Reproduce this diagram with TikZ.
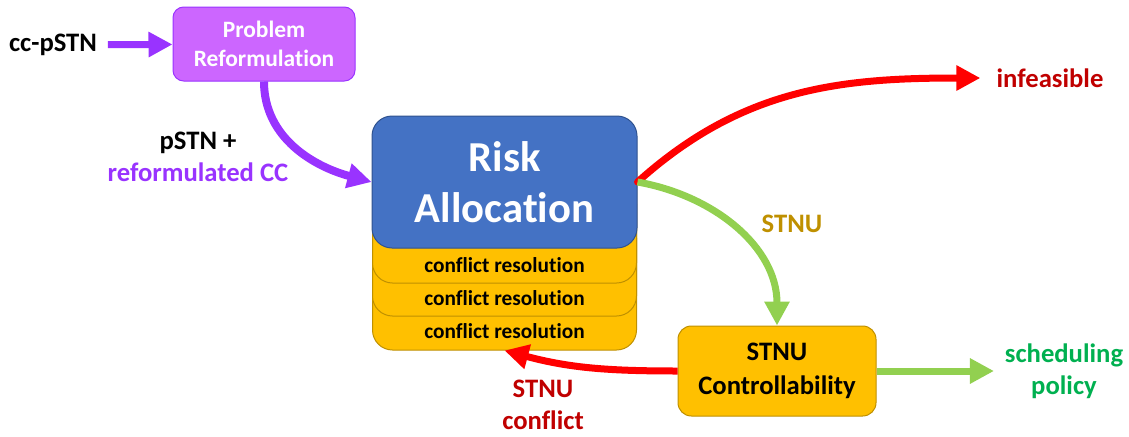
\documentclass[tikz,border=0pt]{standalone}
\usepackage{fontspec}
\setmainfont{Carlito}[Ligatures=NoCommon]
\usetikzlibrary{arrows.meta}
\definecolor{violetline}{HTML}{9933FF}
\definecolor{violetfill}{HTML}{CC66FF}
\definecolor{riskblue}{HTML}{4472C4}
\definecolor{riskborder}{HTML}{2F528F}
\definecolor{amber}{HTML}{FFC000}
\definecolor{amberborder}{HTML}{BF9000}
\definecolor{darkred}{HTML}{C00000}
\definecolor{lightgreen}{HTML}{92D050}
\definecolor{textgreen}{HTML}{00B050}
\begin{document}
\begin{tikzpicture}[x=0.75pt, y=-0.75pt,
  box/.style={draw, line width=0.75pt, align=center, inner sep=0pt},
  layer/.style={box, draw=amberborder, fill=amber, minimum width=198pt, minimum height=99pt, rounded corners=15pt},
  lbl/.style={align=center, inner sep=2pt, font=\fontsize{20}{24}\selectfont\bfseries},
  flow/.style={line width=5.25pt, -{Triangle[length=18pt, width=18pt]}}]
\useasboundingbox (0,0) rectangle (1129,436);
% boxes
\node (reform) at (264, 44) [box, draw=violetline, fill=violetfill, text=white, minimum width=136.5pt, minimum height=55.5pt, rounded corners=8pt, font=\fontsize{17.6}{21.75}\selectfont\bfseries] {Problem\\Reformulation};
\node (layerC) at (504.5, 284) [layer] {};
\node (layerB) at (504.5, 250) [layer] {};
\node (layerA) at (504.5, 217) [layer] {};
\node (risk) at (504.5, 182) [box, draw=riskborder, fill=riskblue, text=white, minimum width=198.75pt, minimum height=99pt, rounded corners=15pt, font=\fontsize{32}{38}\selectfont\bfseries] {Risk\\Allocation};
\node (crA) at (504.5, 265) [font=\fontsize{16}{19}\selectfont\bfseries] {conflict resolution};
\node (crB) at (504.5, 298) [font=\fontsize{16}{19}\selectfont\bfseries] {conflict resolution};
\node (crC) at (504.5, 331) [font=\fontsize{16}{19}\selectfont\bfseries] {conflict resolution};
\node (stnu) at (777, 371) [box, draw=amberborder, fill=amber, minimum width=148.5pt, minimum height=67.5pt, rounded corners=10pt, font=\fontsize{20}{25.5}\selectfont\bfseries] {STNU\\Controllability};
% labels
\node (ccp) at (53, 45) [lbl] {cc-pSTN};
\node (pstn) at (198, 157) [lbl] {pSTN +\\\textcolor{violetline}{reformulated CC}};
\node (infeas) at (1050, 78) [lbl, text=darkred] {infeasible};
\node (stnulbl) at (792, 224) [lbl, text=amberborder] {STNU};
\node (conflict) at (543, 405) [lbl, text=darkred] {STNU\\conflict};
\node (sched) at (1064, 371) [lbl, text=textgreen] {scheduling\\policy};
% arrows
\draw [flow, violetline, shorten <=6pt] (ccp) -- (reform);
\draw [flow, violetline, line width=6pt] (reform.south) to [out=-90, in=165] (risk.west);
\draw [flow, red, line cap=round] (risk.east) to [out=42, in=180] ([xshift=-10pt]infeas.west);
\draw [flow, lightgreen] (risk.east) to [out=-10, in=90] (stnu.north);
\draw [flow, red] (stnu.west) to [out=180, in=-15] (layerC.south);
\draw [flow, lightgreen] (stnu.east) -- ([xshift=-6pt]sched.west);
\end{tikzpicture}
\end{document}
